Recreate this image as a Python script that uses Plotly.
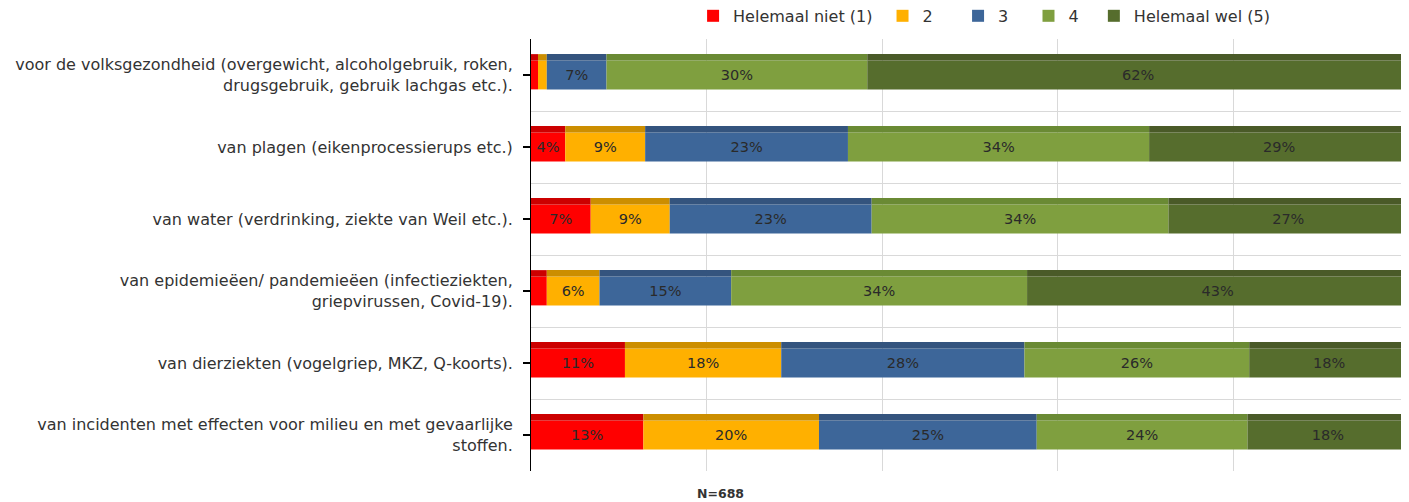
import plotly.graph_objects as go

categories = [
    "voor de volksgezondheid (overgewicht, alcoholgebruik, roken,<br>drugsgebruik, gebruik lachgas etc.).",
    "van plagen (eikenprocessierups etc.)",
    "van water (verdrinking, ziekte van Weil etc.).",
    "van epidemieëen/ pandemieëen (infectieziekten,<br>griepvirussen, Covid-19).",
    "van dierziekten (vogelgriep, MKZ, Q-koorts).",
    "van incidenten met effecten voor milieu en met gevaarlijke<br>stoffen.",
]
series_names = ["Helemaal niet (1)", "2", "3", "4", "Helemaal wel (5)"]
legend_names = ["Helemaal niet (1)\u00a0", "2\u00a0\u00a0\u00a0\u00a0", "3\u00a0\u00a0\u00a0",
                "4\u00a0\u00a0", "Helemaal wel (5)"]
values = [
    [0.8, 3.9, 6.8, 1.8, 10.7, 12.8],
    [1.0, 9.1, 9.0, 6.0, 17.8, 20.0],
    [6.8, 23.1, 23.0, 15.0, 27.7, 24.8],
    [29.7, 34.3, 33.8, 33.7, 25.6, 24.0],
    [61.7, 29.6, 27.3, 43.4, 18.2, 18.3],
]
labels = [
    ["", "4%", "7%", "", "11%", "13%"],
    ["", "9%", "9%", "6%", "18%", "20%"],
    ["7%", "23%", "23%", "15%", "28%", "25%"],
    ["30%", "34%", "34%", "34%", "26%", "24%"],
    ["62%", "29%", "27%", "43%", "18%", "18%"],
]
colors = ["#ff0000", "#ffb000", "#3d6699", "#7f9f3f", "#566d2d"]
top_colors = ["#cc0000", "#cc8e00", "#34547e", "#6a8a34", "#4a5a28"]

FONT = "DejaVu Sans"
fig = go.Figure()

# cumulative bases for the stacked segments
bases = []
running = [0.0] * len(categories)
for vals in values:
    bases.append(list(running))
    running = [r + v for r, v in zip(running, vals)]

for name, lname, vals, base, lab, col, tcol in zip(series_names, legend_names, values, bases,
                                                    labels, colors, top_colors):
    # darker "top face" strip (3D look), on the overlay axis that carries boundary gridlines
    fig.add_trace(go.Bar(
        y=categories, x=vals, base=base, orientation="h", yaxis="y2",
        width=0.09, offset=-0.29,
        marker=dict(color=tcol, line=dict(width=0)),
        showlegend=False, hoverinfo="skip",
    ))
    fig.add_trace(go.Bar(
        y=categories, x=vals, base=base, name=lname, orientation="h",
        width=0.40, offset=-0.20,
        marker=dict(color=col, line=dict(width=0)),
        text=lab, textposition="inside", insidetextanchor="middle",
        textfont=dict(family=FONT, size=14.5, color="#2a2a2a"),
        hovertemplate=name + ": %{x:.0f}%<extra></extra>",
    ))

fig.update_layout(
    barmode="overlay",
    width=1401, height=494,
    margin=dict(l=523, r=0, t=31, b=31),
    plot_bgcolor="white", paper_bgcolor="white",
    font=dict(family=FONT, size=13, color="#404040"),
    legend=dict(orientation="h", xref="container", yref="container",
                x=0.489, xanchor="left", y=0.984, yanchor="middle",
                font=dict(size=16, color="#333333"), traceorder="normal",
                itemwidth=30),
    uniformtext=dict(minsize=8, mode="show"),
    showlegend=True,
    xaxis=dict(range=[0, 100], showticklabels=False, showgrid=True,
               gridcolor="#d9d9d9", dtick=20, zeroline=False, fixedrange=True),
    yaxis=dict(type="category", categoryarray=categories, range=[5.5, -0.5],
               showgrid=False, showline=True, linecolor="#000000", linewidth=1,
               ticks="outside", ticklen=7, tickwidth=1.5, tickcolor="#000000",
               ticklabelstandoff=7,
               tickfont=dict(family=FONT, size=16, color="#333333")),
    yaxis2=dict(type="category", categoryarray=categories, range=[5.5, -0.5],
                overlaying="y", side="left", showticklabels=False,
                tickson="boundaries", showgrid=True, gridcolor="#d9d9d9",
                ticks="", showline=False, zeroline=False),
)

fig.add_annotation(text="<b>N=688</b>", xref="paper", yref="paper", x=0.187, y=-0.051,
                   yanchor="middle", showarrow=False,
                   font=dict(family=FONT, size=12.5, color="#333333"))

fig.write_html("out.html")
